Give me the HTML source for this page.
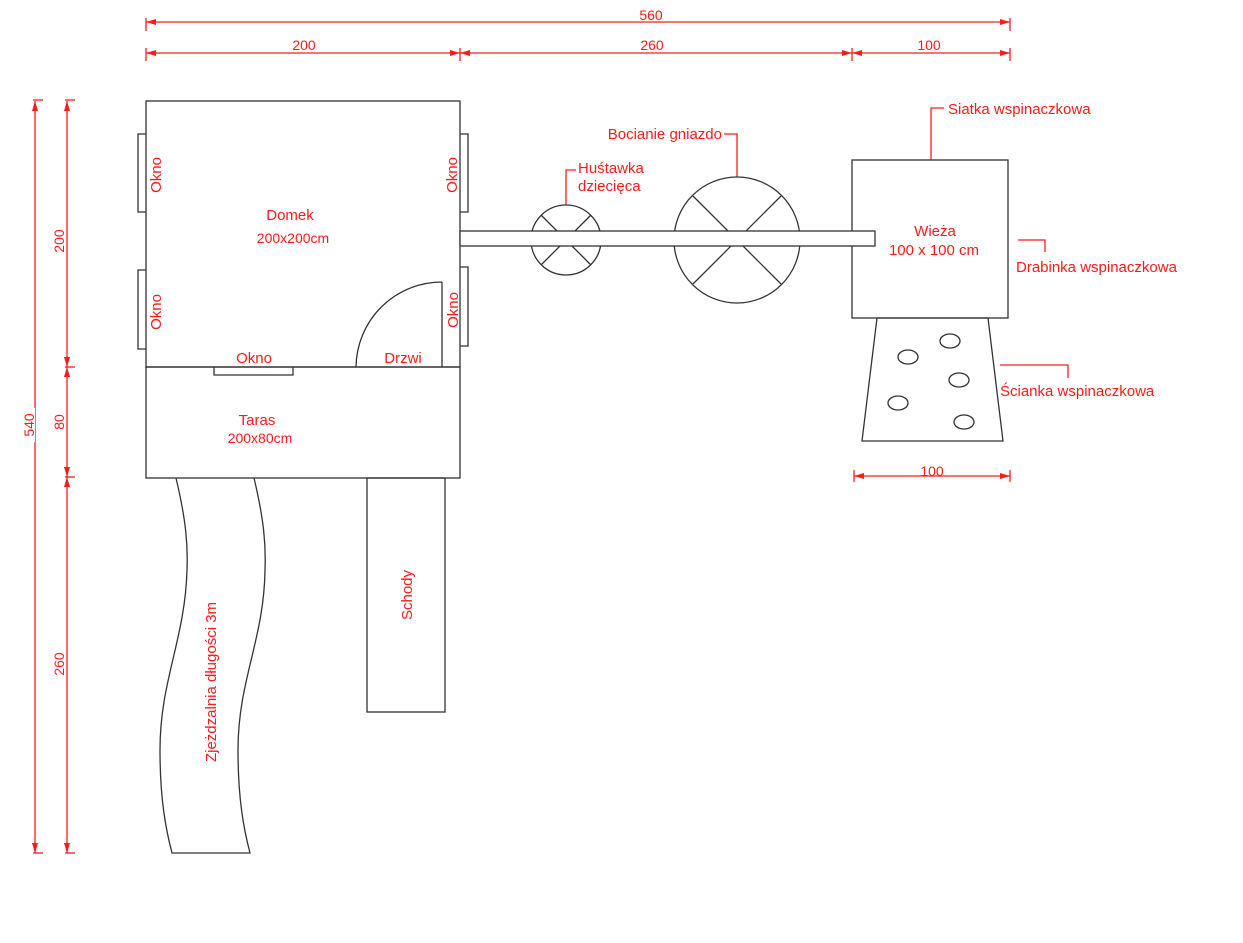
<!DOCTYPE html>
<html><head><meta charset="utf-8"><style>
html,body{margin:0;padding:0;background:#fff}
svg{display:block}
text{font-family:"Liberation Sans","Noto Sans CJK SC",sans-serif;fill:#ff1a1a;font-size:15px}
text.d{font-size:14px}
</style></head><body>
<svg width="1243" height="943" viewBox="0 0 1243 943" xmlns="http://www.w3.org/2000/svg">
<defs>
<marker id="a" viewBox="0 0 10 6" refX="10" refY="3" markerWidth="10" markerHeight="6" orient="auto-start-reverse" markerUnits="userSpaceOnUse"><path d="M0,0 L10,3 L0,6z" fill="#ff1a1a"/></marker>
</defs>
<g stroke="#ff1a1a" stroke-width="1.3" fill="none">
<line x1="146" y1="22" x2="1010" y2="22" marker-start="url(#a)" marker-end="url(#a)"/>
<line x1="146" y1="18" x2="146" y2="31"/><line x1="1010" y1="18" x2="1010" y2="31"/>
<line x1="146" y1="53" x2="460" y2="53" marker-start="url(#a)" marker-end="url(#a)"/>
<line x1="460" y1="53" x2="852" y2="53" marker-start="url(#a)" marker-end="url(#a)"/>
<line x1="852" y1="53" x2="1010" y2="53" marker-start="url(#a)" marker-end="url(#a)"/>
<line x1="146" y1="48" x2="146" y2="61"/><line x1="460" y1="48" x2="460" y2="61"/><line x1="852" y1="48" x2="852" y2="61"/><line x1="1010" y1="48" x2="1010" y2="61"/>
<line x1="35" y1="101" x2="35" y2="853" marker-start="url(#a)" marker-end="url(#a)"/>
<line x1="33" y1="100" x2="43" y2="100"/><line x1="33" y1="853" x2="43" y2="853"/>
<line x1="67" y1="101" x2="67" y2="367" marker-start="url(#a)" marker-end="url(#a)"/>
<line x1="67" y1="367" x2="67" y2="477" marker-start="url(#a)" marker-end="url(#a)"/>
<line x1="67" y1="477" x2="67" y2="853" marker-start="url(#a)" marker-end="url(#a)"/>
<line x1="65" y1="100" x2="75" y2="100"/><line x1="65" y1="367" x2="75" y2="367"/><line x1="65" y1="477" x2="75" y2="477"/><line x1="65" y1="853" x2="75" y2="853"/>
<line x1="854" y1="476" x2="1010" y2="476" marker-start="url(#a)" marker-end="url(#a)"/>
<line x1="854" y1="470" x2="854" y2="482"/><line x1="1010" y1="470" x2="1010" y2="482"/>
<polyline points="931,160 931,108 944,108"/>
<polyline points="724,134 737,134 737,177"/>
<polyline points="566,205 566,170 576,170"/>
<polyline points="1018,240 1045,240 1045,252"/>
<polyline points="1000,365 1068,365 1068,378"/>
</g>
<g fill="#fff" stroke="none">
<rect x="636" y="8" width="30" height="13"/>
<rect x="288" y="38" width="32" height="14"/>
<rect x="635" y="38" width="34" height="14"/>
<rect x="913" y="38" width="32" height="14"/>
<rect x="20" y="408" width="15" height="34"/>
</g>
<g stroke="#333" stroke-width="1.3" fill="none">
<rect x="146" y="101" width="314" height="266"/>
<rect x="146" y="367" width="314" height="111"/>
<polyline points="146,134 138,134 138,212 146,212"/>
<polyline points="146,270 138,270 138,349 146,349"/>
<polyline points="460,134 468,134 468,212 460,212"/>
<polyline points="460,267 468,267 468,346 460,346"/>
<polyline points="214,367 214,375 293,375 293,367"/>
<line x1="442" y1="282" x2="442" y2="367"/>
<path d="M356,367 A86,86 0 0 1 442,282"/>
<path d="M176,478 C186,520 188,545 187,570 C185,640 160,680 160,750 C160,800 166,830 172,853 L250,853 C244,830 238,800 238,750 C238,680 264,640 265,570 C266,545 264,520 254,478"/>
<rect x="367" y="478" width="78" height="234"/>
<circle cx="566" cy="240" r="35"/>
<line x1="541" y1="215" x2="591" y2="265"/><line x1="591" y1="215" x2="541" y2="265"/>
<circle cx="737" cy="240" r="63"/>
<line x1="693" y1="196" x2="781" y2="284"/><line x1="781" y1="196" x2="693" y2="284"/>
<rect x="852" y="160" width="156" height="158"/>
<rect x="460" y="231" width="415" height="15" fill="#fff"/>
<polygon points="877,318 988,318 1003,441 862,441"/>
<ellipse cx="908" cy="357" rx="10" ry="7"/>
<ellipse cx="950" cy="341" rx="10" ry="7"/>
<ellipse cx="959" cy="380" rx="10" ry="7"/>
<ellipse cx="898" cy="403" rx="10" ry="7"/>
<ellipse cx="964" cy="422" rx="10" ry="7"/>
</g>
<text class="d" x="651" y="20" text-anchor="middle">560</text>
<text class="d" x="304" y="50" text-anchor="middle">200</text>
<text class="d" x="652" y="50" text-anchor="middle">260</text>
<text class="d" x="929" y="50" text-anchor="middle">100</text>
<text class="d" x="932" y="476" text-anchor="middle">100</text>
<text class="d" transform="translate(34,425) rotate(-90)" text-anchor="middle">540</text>
<text class="d" transform="translate(64,241) rotate(-90)" text-anchor="middle">200</text>
<text class="d" transform="translate(64,422) rotate(-90)" text-anchor="middle">80</text>
<text class="d" transform="translate(64,664) rotate(-90)" text-anchor="middle">260</text>
<text x="290" y="220" text-anchor="middle">Domek</text>
<text x="293" y="243" text-anchor="middle" style="font-size:14px">200x200cm</text>
<text transform="translate(161,175) rotate(-90)" text-anchor="middle">Okno</text>
<text transform="translate(161,312) rotate(-90)" text-anchor="middle">Okno</text>
<text transform="translate(457,175) rotate(-90)" text-anchor="middle">Okno</text>
<text transform="translate(458,310) rotate(-90)" text-anchor="middle">Okno</text>
<text x="254" y="363" text-anchor="middle">Okno</text>
<text x="403" y="363" text-anchor="middle">Drzwi</text>
<text x="257" y="425" text-anchor="middle">Taras</text>
<text x="260" y="443" text-anchor="middle" style="font-size:14px">200x80cm</text>
<text transform="translate(412,595) rotate(-90)" text-anchor="middle">Schody</text>
<text transform="translate(216,682) rotate(-90)" text-anchor="middle">Zjeżdzalnia długości 3m</text>
<text x="578" y="173">Huśtawka</text>
<text x="578" y="191">dziecięca</text>
<text x="722" y="139" text-anchor="end">Bocianie gniazdo</text>
<text x="948" y="114">Siatka wspinaczkowa</text>
<text x="935" y="236" text-anchor="middle">Wieża</text>
<text x="934" y="255" text-anchor="middle">100 x 100 cm</text>
<text x="1016" y="272">Drabinka wspinaczkowa</text>
<text x="1000" y="396">Ścianka wspinaczkowa</text>
</svg>
</body></html>
